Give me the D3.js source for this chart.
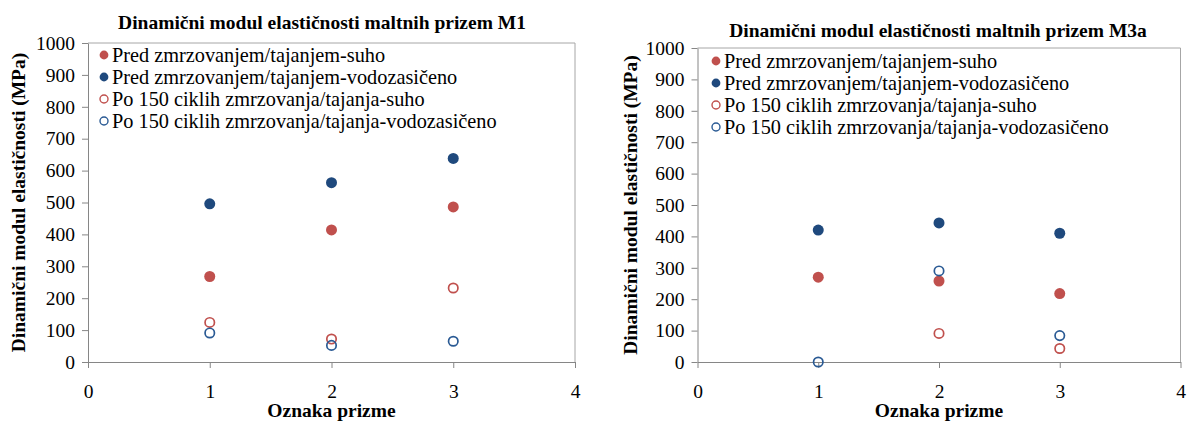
<!DOCTYPE html>
<html>
<head>
<meta charset="utf-8">
<script src="https://cdn.jsdelivr.net/npm/d3@7"></script>
<style>
  html, body { margin: 0; padding: 0; background: #ffffff; }
  svg { display: block; }
</style>
</head>
<body>
<svg id="chart" width="1188" height="423"></svg>
<script>
// Sample labels on the x axis (Oznaka prizme)
const prizme = [1, 2, 3];

// Series names shared by both panels
const seriesNames = [
  "Pred zmrzovanjem/tajanjem-suho",
  "Pred zmrzovanjem/tajanjem-vodozasičeno",
  "Po 150 ciklih zmrzovanja/tajanja-suho",
  "Po 150 ciklih zmrzovanja/tajanja-vodozasičeno"
];

// Panel M1 – dynamic modulus of elasticity (MPa)
const m1PredSuho = [268, 414, 486];
const m1PredVodo = [496, 562, 638];
const m1PoSuho   = [124, 72, 232];
const m1PoVodo   = [91, 52, 65];

// Panel M3a – dynamic modulus of elasticity (MPa)
const m3aPredSuho = [270, 258, 218];
const m3aPredVodo = [420, 443, 410];
const m3aPoSuho   = [null, 91, 43];
const m3aPoVodo   = [0, 290, 84];

// Axis ticks
const xTicks = [0, 1, 2, 3, 4];
const yTicks = [0, 100, 200, 300, 400, 500, 600, 700, 800, 900, 1000];

const titleM1 = "Dinamični modul elastičnosti maltnih prizem M1";
const titleM3a = "Dinamični modul elastičnosti maltnih prizem M3a";
const yTitle = "Dinamični modul elastičnosti (MPa)";
const xTitle = "Oznaka prizme";

const FONT = "'Liberation Serif', 'Times New Roman', serif";
const RED = "#C0504D";
const BLUE = "#1F497D";
const BLUE_OPEN = "#2A5A94";

// Marker style per series: filled or hollow, colour
const styles = [
  { color: RED, open: false },
  { color: BLUE, open: false },
  { color: RED, open: true },
  { color: BLUE_OPEN, open: true }
];

const svg = d3.select("#chart");

function styleText(sel, size, bold) {
  sel.attr("font-family", FONT)
    .style("font-family", FONT)
    .style("font-size", size + "px")
    .style("font-weight", bold ? "bold" : "normal")
    .attr("fill", "#000");
}

function drawPanel(cfg) {
  const { left, right, top, bottom, title, titleX, titleY, series, legendX, legendY, yTitleX } = cfg;
  const g = svg.append("g");

  const x = d3.scaleLinear().domain([0, 4]).range([left, right]);
  const y = d3.scaleLinear().domain([0, 1000]).range([bottom, top]);

  // Plot area frame (top & right)
  g.append("path")
    .attr("d", `M${left},${top}H${right}V${bottom}`)
    .attr("fill", "none")
    .attr("stroke", "#A6A6A6")
    .attr("stroke-width", 1);

  // Y axis
  const yAxis = g.append("g")
    .attr("transform", `translate(${left},0)`)
    .call(d3.axisLeft(y).tickValues(yTicks).tickFormat(d3.format("d"))
      .tickSize(6).tickPadding(7).tickSizeOuter(0));
  yAxis.attr("font-family", FONT);
  yAxis.select(".domain").attr("stroke", "#868686");
  yAxis.selectAll(".tick line").attr("stroke", "#868686");
  styleText(yAxis.selectAll(".tick text"), 19.5, false);

  // X axis
  const xAxis = g.append("g")
    .attr("transform", `translate(0,${bottom})`)
    .call(d3.axisBottom(x).tickValues(xTicks).tickFormat(d3.format("d"))
      .tickSize(6).tickPadding(16).tickSizeOuter(0));
  xAxis.attr("font-family", FONT);
  xAxis.select(".domain").attr("stroke", "#868686");
  xAxis.selectAll(".tick line").attr("stroke", "#868686");
  styleText(xAxis.selectAll(".tick text"), 19.5, false);

  // Title
  styleText(g.append("text")
    .attr("x", titleX).attr("y", titleY)
    .attr("text-anchor", "middle")
    .attr("dy", "0.35em")
    .text(title), 19.5, true);

  // Y axis title
  styleText(g.append("text")
    .attr("transform", `translate(${yTitleX},${(top + bottom) / 2}) rotate(-90)`)
    .attr("text-anchor", "middle")
    .attr("dy", "0.35em")
    .text(yTitle), 19.5, true);

  // X axis title
  styleText(g.append("text")
    .attr("x", (left + right) / 2).attr("y", bottom + 48)
    .attr("text-anchor", "middle")
    .attr("dy", "0.35em")
    .text(xTitle), 19.5, true);

  // Data points
  series.forEach((vals, si) => {
    const st = styles[si];
    const pts = prizme.map((p, i) => ({ p, v: vals[i] })).filter(d => d.v !== null);
    g.append("g").selectAll("circle")
      .data(pts)
      .join("circle")
      .attr("cx", d => x(d.p))
      .attr("cy", d => y(d.v))
      .attr("r", st.open ? 4.7 : 5.5)
      .attr("fill", st.open ? "none" : st.color)
      .attr("stroke", st.open ? st.color : "none")
      .attr("stroke-width", st.open ? 1.7 : 0);
  });

  // Legend
  const lg = g.append("g").attr("transform", `translate(${legendX},${legendY})`);
  seriesNames.forEach((name, i) => {
    const st = styles[i];
    const row = lg.append("g").attr("transform", `translate(0,${i * 22})`);
    row.append("circle")
      .attr("cx", 0).attr("cy", 0)
      .attr("r", st.open ? 4 : 4.4)
      .attr("fill", st.open ? "none" : st.color)
      .attr("stroke", st.open ? st.color : "none")
      .attr("stroke-width", st.open ? 1.4 : 0);
    styleText(row.append("text")
      .attr("x", 8).attr("y", 0)
      .attr("dy", "0.33em")
      .text(name), 20.3, false);
  });
}

drawPanel({
  left: 88, right: 575, top: 43, bottom: 362,
  title: titleM1, titleX: 322, titleY: 22,
  yTitleX: 18, legendX: 104, legendY: 55,
  series: [m1PredSuho, m1PredVodo, m1PoSuho, m1PoVodo]
});

drawPanel({
  left: 697.5, right: 1180.5, top: 48, bottom: 362,
  title: titleM3a, titleX: 938, titleY: 30,
  yTitleX: 630, legendX: 716, legendY: 61,
  series: [m3aPredSuho, m3aPredVodo, m3aPoSuho, m3aPoVodo]
});
</script>
</body>
</html>
